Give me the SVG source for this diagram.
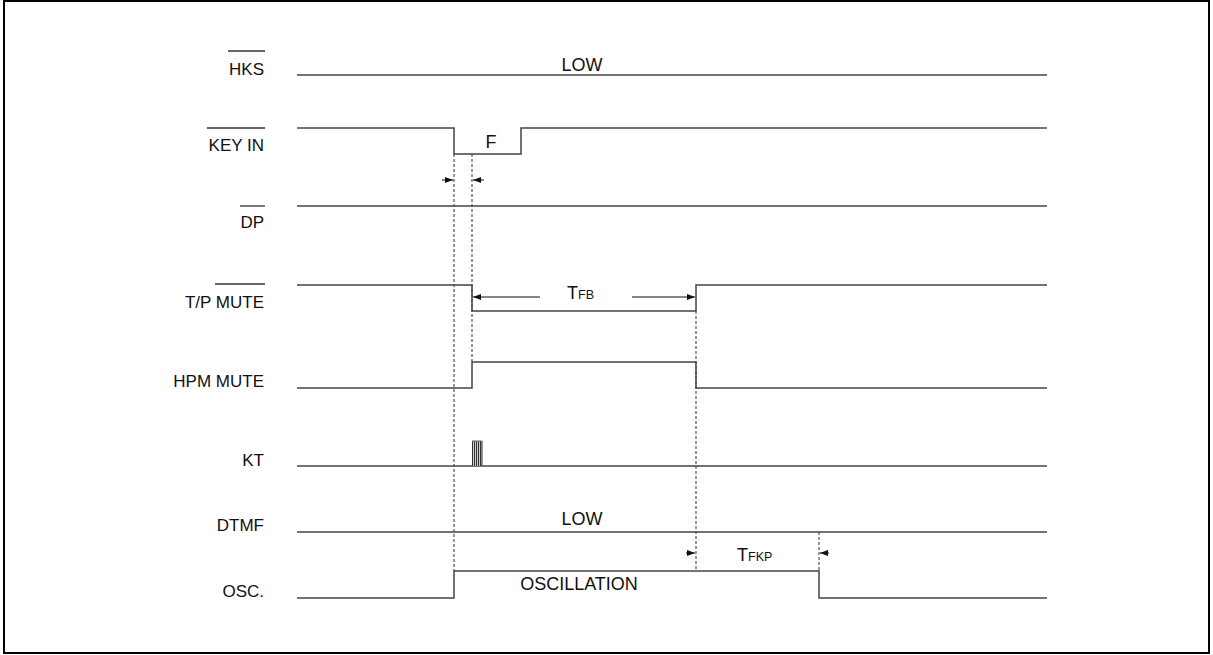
<svg xmlns="http://www.w3.org/2000/svg" width="1213" height="655" viewBox="0 0 1213 655">
<defs>
<style>
.lbl{font-family:"Liberation Sans",Arial,sans-serif;font-size:17px;fill:#111}
.big{font-size:18px}
.sub{font-size:12.5px}
.sig{fill:none;stroke:#444;stroke-width:1.5}
.ovl{stroke:#333;stroke-width:1.3}
.dash{fill:none;stroke:#444;stroke-width:1.1;stroke-dasharray:3 2}
.dim{stroke:#111;stroke-width:1;fill:none}
</style>
<marker id="ah" viewBox="0 0 8 6" refX="8" refY="3" markerWidth="8" markerHeight="6" markerUnits="userSpaceOnUse" orient="auto">
<path d="M0 0 L8 3 L0 6 Z" fill="#111"/>
</marker>
</defs>
<rect x="4" y="1" width="1205" height="652" fill="#fff" stroke="#000" stroke-width="2"/>

<g id="sig-hks">
<text class="lbl" x="264" y="75" text-anchor="end">HKS</text>
<line class="ovl" x1="228" y1="51" x2="265" y2="51"/>
<path class="sig" d="M297 75 H1047"/>
<text class="lbl big" x="582" y="71" text-anchor="middle">LOW</text>
</g>

<g id="sig-keyin">
<text class="lbl" x="264" y="151" text-anchor="end">KEY IN</text>
<line class="ovl" x1="207" y1="128" x2="265" y2="128"/>
<path class="sig" d="M297 128 H454 V154 H521 V128 H1047"/>
<text class="lbl big" x="491" y="148" text-anchor="middle">F</text>
</g>

<g id="sig-dp">
<text class="lbl" x="264" y="228" text-anchor="end">DP</text>
<line class="ovl" x1="240" y1="206" x2="265" y2="206"/>
<path class="sig" d="M297 206 H1047"/>
</g>

<g id="sig-tpmute">
<text class="lbl" x="264" y="308" text-anchor="end">T/P MUTE</text>
<line class="ovl" x1="215" y1="284" x2="265" y2="284"/>
<path class="sig" d="M297 285 H472 V311 H696 V285 H1047"/>
<text class="lbl big" x="567" y="299">T<tspan class="sub">FB</tspan></text>
</g>

<g id="sig-hpmmute">
<text class="lbl" x="264" y="387" text-anchor="end">HPM MUTE</text>
<path class="sig" d="M297 388 H472 V362 H696 V388 H1047"/>
</g>

<g id="sig-kt">
<text class="lbl" x="264" y="466" text-anchor="end">KT</text>
<path class="sig" d="M297 466 H1047"/>
<rect x="472" y="441" width="10" height="25" fill="#ccc" stroke="none"/>
<path d="M472.5 441 V466 M474.5 441 V466 M476.5 441 V466 M478.5 441 V466 M480.5 441 V466 M482 441 V466" stroke="#333" stroke-width="1"/>
<line x1="472" y1="441" x2="482" y2="441" stroke="#666" stroke-width="1"/>
</g>

<g id="sig-dtmf">
<text class="lbl" x="264" y="531" text-anchor="end">DTMF</text>
<path class="sig" d="M297 532 H1047"/>
<text class="lbl big" x="582" y="525" text-anchor="middle">LOW</text>
</g>

<g id="sig-osc">
<text class="lbl" x="264" y="597" text-anchor="end">OSC.</text>
<path class="sig" d="M297 598 H454 V571 H819 V598 H1047"/>
<text class="lbl big" x="579" y="590" text-anchor="middle">OSCILLATION</text>
<text class="lbl big" x="737" y="561">T<tspan class="sub">FKP</tspan></text>
</g>

<g id="connectors">
<line class="dash" x1="454" y1="154" x2="454" y2="571"/>
<line class="dash" x1="472" y1="154" x2="472" y2="362"/>
<line class="dash" x1="696" y1="311" x2="696" y2="571"/>
<line class="dash" x1="819" y1="532" x2="819" y2="571"/>
<line class="dim" x1="442" y1="180" x2="453" y2="180" marker-end="url(#ah)"/>
<line class="dim" x1="484" y1="180" x2="473" y2="180" marker-end="url(#ah)"/>
<line class="dim" x1="540" y1="297" x2="473" y2="297" marker-end="url(#ah)"/>
<line class="dim" x1="632" y1="297" x2="695" y2="297" marker-end="url(#ah)"/>
<line class="dim" x1="686" y1="553" x2="695" y2="553" marker-end="url(#ah)"/>
<line class="dim" x1="829" y1="553" x2="820" y2="553" marker-end="url(#ah)"/>
</g>
</svg>
